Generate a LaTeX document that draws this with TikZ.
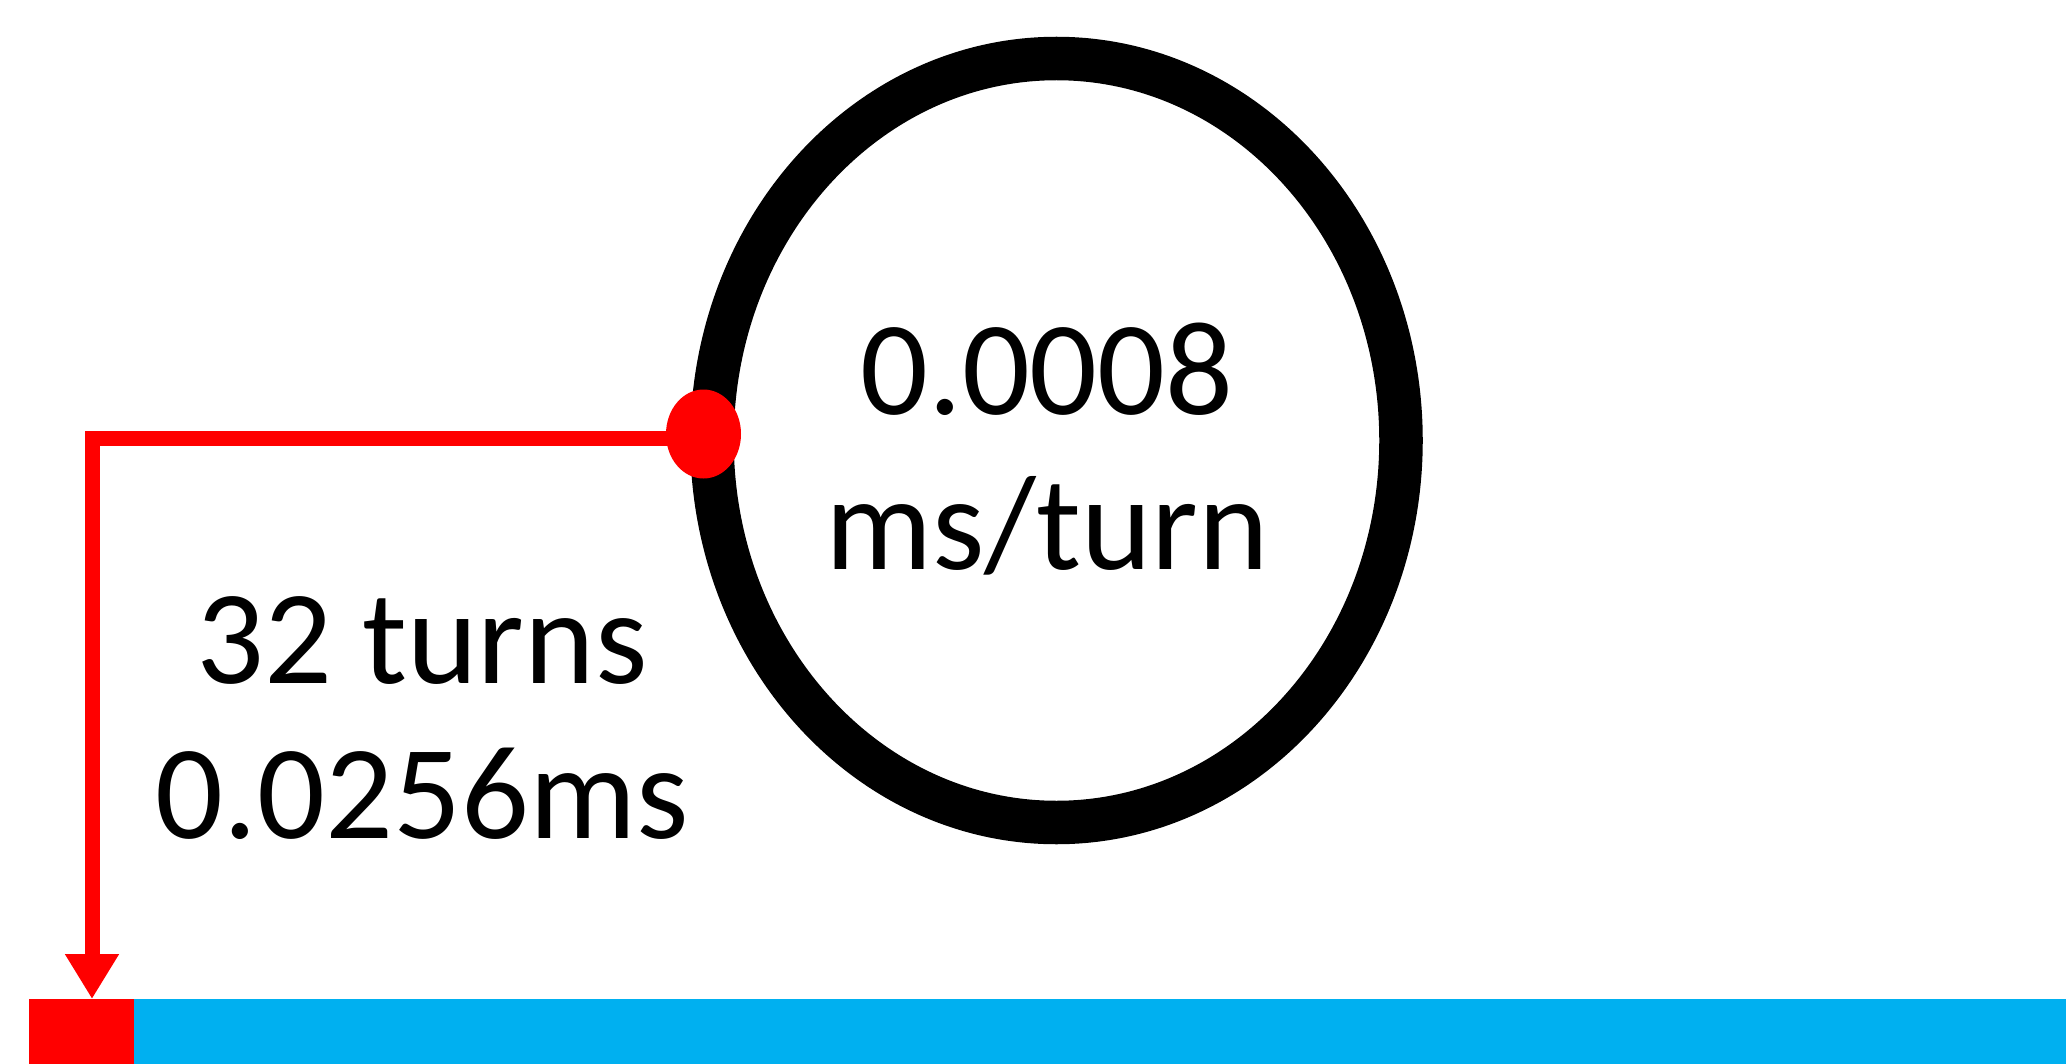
\documentclass[tikz,border=0pt]{standalone}
\usepackage{fontspec}
\setmainfont{Carlito}
\usetikzlibrary{shapes.geometric,arrows.meta,backgrounds}
\definecolor{trackblue}{RGB}{0,176,240}
\definecolor{markred}{RGB}{255,0,0}
\begin{document}
\begin{tikzpicture}[x=0.5pt,y=-0.5pt,
  wheel/.style={ellipse, draw=black, line width=21.75pt,
    minimum width=344.5pt, minimum height=382pt, inner sep=0pt},
  txt/.style={font=\fontsize{67}{77.5}\selectfont, align=center, inner sep=0pt},
  dotmark/.style={ellipse, fill=markred, minimum width=37.5pt,
    minimum height=44.5pt, inner sep=0pt},
  conn/.style={draw=markred, line width=7.5pt,
    -{Triangle[width=25.5pt,length=22.5pt]}},
  strip/.style={rectangle, inner sep=0pt, outer sep=0pt, anchor=north west,
    minimum height=32.5pt}
]
\useasboundingbox (0,0) rectangle (2066,1064);
% the rotating disc and its rate
\node[wheel] (wheel) at (1056.5,440.5) {};
\node[txt] (rate) at (1047,449) {0.0008\\ms/turn};
\node[txt] (count) at (422,718.5) {32 turns\\0.0256ms};
% timeline strip
\node[strip, fill=markred, minimum width=52.5pt] (marker) at (29,999) {};
\node[strip, fill=trackblue, minimum width=966pt] (track) at (134,999) {};
% read point on the disc and the path down to the timeline
\node[dotmark] (dot) at (703.5,434) {};
\coordinate (bend) at (92,438);
\coordinate (tip) at (92,999);
\begin{scope}[on background layer]
  \draw[conn] (dot.center |- bend) -- (bend) -- (tip);
\end{scope}
\end{tikzpicture}
\end{document}
